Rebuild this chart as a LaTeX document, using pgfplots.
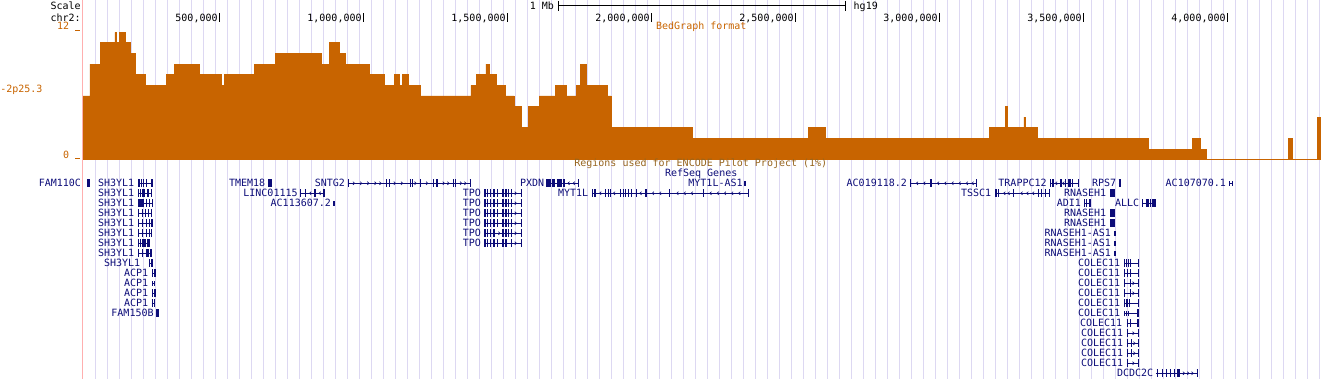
\documentclass[border=0pt]{standalone}
\usepackage{pgfplots}
\pgfplotsset{compat=1.18}
\usepackage{fontspec}
\setmainfont{DejaVu Sans Mono}
\definecolor{ucsco}{RGB}{200,100,0}
\definecolor{navyc}{RGB}{12,12,120}
\definecolor{brownc}{RGB}{150,100,30}
\definecolor{gridc}{RGB}{221,216,242}
\definecolor{pinkc}{RGB}{255,175,175}
\pgfdeclareplotmark{rarr}{\pgfpathmoveto{\pgfpoint{-1.2pt}{1.6pt}}\pgfpathlineto{\pgfpoint{0.6pt}{0pt}}\pgfpathlineto{\pgfpoint{-1.2pt}{-1.6pt}}\pgfusepathqstroke}
\pgfdeclareplotmark{larr}{\pgfpathmoveto{\pgfpoint{1.2pt}{1.6pt}}\pgfpathlineto{\pgfpoint{-0.6pt}{0pt}}\pgfpathlineto{\pgfpoint{1.2pt}{-1.6pt}}\pgfusepathqstroke}
\pgfplotsset{
  base/.style={scale only axis, width=1238pt, height=379pt, at={(83pt,0pt)}, anchor=south west},
  pxaxis/.style={base, xmin=83, xmax=1321, ymin=-379, ymax=0},
  kbaxis/.style={base, xmin=26.7, xmax=4325.3},
  gl/.style={color=navyc, line width=1pt},
  ex/.style={color=navyc, line width=8pt},
  exs/.style={color=navyc, line width=5pt},
  chev/.style={color=navyc, only marks, line width=0.6pt, mark=#1},
}
\tikzset{lab/.style={font=\fontsize{10pt}{12pt}\selectfont, inner sep=0pt, outer sep=0pt}}
\begin{document}
\begin{tikzpicture}
\path[use as bounding box] (0,0) rectangle (1321pt,379pt);
% ---------- guide lines ----------
\begin{axis}[pxaxis, axis line style={draw=none}, xtick={95.5,107.5,...,1319.5}, ytick=\empty,
  xticklabels=\empty, major tick length=0pt, grid=major, major grid style={gridc, line width=1pt}, clip=false]
\addplot[draw=none] coordinates {(100,-100)};
\draw[pinkc, line width=1pt] (axis cs:82.5,0) -- (axis cs:82.5,-379);
\end{axis}
% ---------- bedGraph ----------
\begin{axis}[kbaxis, ymin=-20.65, ymax=15.04, hide axis]
\addplot[const plot, fill=ucsco, draw=ucsco, line width=0.8pt] coordinates {
(26.7,0)(26.7,6)(51.0,9)(85.8,11)(137.8,12)(143.7,11)(152.8,12)(175.0,11)(192.4,10)(207.3,8)
(244.4,7)(314.9,8)(343.7,9)(430.6,8)(508.3,7)(516.3,8)(621.5,9)(694.4,10)(855.6,9)(880.9,11)
(916.7,10)(938.9,9)(1020.8,8)(1072.9,7)(1107.6,8)(1123.9,7)(1135.4,8)(1157.6,7)(1196.9,6)
(1373.9,7)(1393.7,8)(1426.0,9)(1437.5,8)(1463.2,7)(1494.4,6)(1523.3,5)(1547.6,3)(1571.9,5)
(1611.1,6)(1665.6,7)(1706.3,6)(1739.6,7)(1754.9,9)(1773.3,7)(1848.6,6)(1860.1,3)(2142.4,2)
(2545.1,3)(2605.5,2)(3173.6,3)(3228.1,5)(3237.5,3)(3294.0,4)(3297.6,3)(3341.7,2)(3727.1,1)
(3877.5,2)(3907.6,1)(3928.5,0)(4211.8,2)(4224.6,0)(4312.4,4)(4325.3,4)(4325.3,0)} \closedcycle;
\end{axis}
% ---------- RefSeq genes (x in kb, y = row) ----------
\begin{axis}[kbaxis, ymin=-18.33, ymax=19.57, y dir=reverse, hide axis, clip=false, unbounded coords=jump]
% row 0
\addplot[gl] coordinates {(41.7,0)(51,0)(nan,nan)(218.7,0)(270.8,0)(nan,nan)(670.1,0)(681.9,0)(nan,nan)(947.9,0)(1372.9,0)(nan,nan)(1634.4,0)(1750,0)(nan,nan)(2321.8,0)(2328.8,0)(nan,nan)(2898.2,0)(3131.9,0)(nan,nan)(3384.4,0)(3485.1,0)(nan,nan)(3622.9,0)(3629.9,0)(nan,nan)(4005.9,0)(4020.8,0)};
\addplot[ex] coordinates {(41.7,0)(51,0)(nan,nan)(218.7,0)(223,0)(nan,nan)(227,0)(232,0)(nan,nan)(234,0)(238,0)(nan,nan)(245,0)(249,0)(nan,nan)(262,0)(266,0)(nan,nan)(267.5,0)(270.8,0)(nan,nan)(670.1,0)(681.9,0)(nan,nan)(947.9,0)(951.5,0)(nan,nan)(1078.8,0)(1082.5,0)(nan,nan)(1089,0)(1092.7,0)(nan,nan)(1162,0)(1165.5,0)(nan,nan)(1168,0)(1171.5,0)(nan,nan)(1198,0)(1201.5,0)(nan,nan)(1242,0)(1245.5,0)(nan,nan)(1252,0)(1259.4,0)(nan,nan)(1311.5,0)(1315,0)(nan,nan)(1318.5,0)(1322,0)(nan,nan)(1369.5,0)(1372.9,0)(nan,nan)(1634.4,0)(1651.8,0)(nan,nan)(1655.3,0)(1665.7,0)(nan,nan)(1671.5,0)(1688.9,0)(nan,nan)(1692.4,0)(1700.3,0)(nan,nan)(1746.5,0)(1750,0)(nan,nan)(2898.2,0)(2901.7,0)(nan,nan)(2967.5,0)(2973.3,0)(nan,nan)(3128.4,0)(3131.9,0)(nan,nan)(3384.4,0)(3387.9,0)(nan,nan)(3391.8,0)(3397.7,0)(nan,nan)(3418.5,0)(3424.4,0)(nan,nan)(3435.8,0)(3441.4,0)(nan,nan)(3447.2,0)(3458.7,0)(nan,nan)(3462,0)(3465.5,0)(nan,nan)(3481.6,0)(3485.1,0)(nan,nan)(3622.9,0)(3629.9,0)};
\addplot[exs] coordinates {(2321.3,0)(2324.3,0)(nan,nan)(2326.3,0)(2329.3,0)(nan,nan)(4005.9,0)(4009.4,0)(nan,nan)(4017.3,0)(4020.8,0)};
\addplot[chev=rarr] coordinates {(968,0)(993,0)(1018,0)(1043,0)(1060,0)(1110,0)(1135,0)(1182,0)(1222,0)(1280,0)(1296,0)(1340,0)(1355,0)};
\addplot[chev=larr] coordinates {(1712,0)(1730,0)(2922,0)(2947,0)(2995,0)(3020,0)(3045,0)(3070,0)(3095,0)(3115,0)(3405,0)(3430,0)};
% row 1
\addplot[gl] coordinates {(218.7,1)(265.3,1)(nan,nan)(780.2,1)(867,1)(nan,nan)(1420.1,1)(1550,1)(nan,nan)(1795.1,1)(2340.3,1)(nan,nan)(3193.4,1)(3384.4,1)(nan,nan)(3592.7,1)(3610.1,1)};
\addplot[ex] coordinates {(218.7,1)(222.2,1)(nan,nan)(225,1)(229,1)(nan,nan)(231,1)(242,1)(nan,nan)(250,1)(256,1)(nan,nan)(261.8,1)(265.3,1)(nan,nan)(780.2,1)(783.7,1)(nan,nan)(796,1)(799.5,1)(nan,nan)(830.5,1)(834,1)(nan,nan)(861.2,1)(867,1)(nan,nan)(1420.1,1)(1425,1)(nan,nan)(1428.5,1)(1434,1)(nan,nan)(1439.9,1)(1443.4,1)(nan,nan)(1451.4,1)(1457.3,1)(nan,nan)(1465.3,1)(1468.8,1)(nan,nan)(1482.6,1)(1487.6,1)(nan,nan)(1492,1)(1497.9,1)(nan,nan)(1501.4,1)(1506.9,1)(nan,nan)(1512.8,1)(1516.3,1)(nan,nan)(1546.5,1)(1550,1)(nan,nan)(1795.1,1)(1798.6,1)(nan,nan)(1801,1)(1804.5,1)(nan,nan)(1806,1)(1809.5,1)(nan,nan)(1840.3,1)(1843.8,1)(nan,nan)(1848,1)(1851.5,1)(nan,nan)(1856,1)(1859.5,1)(nan,nan)(1891.3,1)(1894.8,1)(nan,nan)(1900,1)(1903.5,1)(nan,nan)(1909,1)(1912.5,1)(nan,nan)(1918,1)(1923,1)(nan,nan)(1928.5,1)(1932,1)(nan,nan)(1947.5,1)(1951,1)(nan,nan)(1978,1)(1986,1)(nan,nan)(2061,1)(2064.5,1)(nan,nan)(2179,1)(2182.5,1)(nan,nan)(2336.8,1)(2340.3,1)(nan,nan)(3193.4,1)(3201.4,1)(nan,nan)(3204,1)(3207.5,1)(nan,nan)(3255.5,1)(3259,1)(nan,nan)(3342,1)(3345.5,1)(nan,nan)(3353.5,1)(3357,1)(nan,nan)(3365.5,1)(3369,1)(nan,nan)(3380.9,1)(3384.4,1)(nan,nan)(3592.7,1)(3610.1,1)};
\addplot[chev=larr] coordinates {(815,1)(848,1)(1822,1)(1870,1)(1962,1)(2005,1)(2030,1)(2090,1)(2115,1)(2140,1)(2205,1)(2230,1)(2255,1)(2280,1)(2305,1)(3225,1)(3240,1)(3285,1)(3305,1)(3325,1)};
\addplot[chev=rarr] coordinates {(1530,1)};
% row 2
\addplot[gl] coordinates {(218.7,2)(270.8,2)(nan,nan)(1420.1,2)(1550,2)(nan,nan)(3503.5,2)(3526.8,2)(nan,nan)(3704.8,2)(3752.4,2)};
\addplot[ex] coordinates {(218.7,2)(223,2)(nan,nan)(226,2)(231,2)(nan,nan)(233,2)(237,2)(nan,nan)(244,2)(248,2)(nan,nan)(256,2)(260,2)(nan,nan)(267.3,2)(270.8,2)(nan,nan)(1420.1,2)(1425,2)(nan,nan)(1428.5,2)(1434,2)(nan,nan)(1439.9,2)(1443.4,2)(nan,nan)(1451.4,2)(1457.3,2)(nan,nan)(1465.3,2)(1468.8,2)(nan,nan)(1482.6,2)(1487.6,2)(nan,nan)(1492,2)(1497.9,2)(nan,nan)(1501.4,2)(1506.9,2)(nan,nan)(1512.8,2)(1516.3,2)(nan,nan)(1546.5,2)(1550,2)(nan,nan)(3503.5,2)(3507,2)(nan,nan)(3508.5,2)(3512,2)(nan,nan)(3519,2)(3522.5,2)(nan,nan)(3523.3,2)(3526.8,2)(nan,nan)(3704.8,2)(3708.3,2)(nan,nan)(3716,2)(3728,2)(nan,nan)(3732,2)(3735.5,2)(nan,nan)(3738,2)(3752.4,2)};
\addplot[exs] coordinates {(895.8,2)(902.8,2)};
% rows 3-4
\addplot[gl] coordinates {(218.7,3)(265.3,3)(nan,nan)(1420.1,3)(1550,3)(nan,nan)(218.7,4)(270.8,4)(nan,nan)(1420.1,4)(1550,4)};
\addplot[ex] coordinates {(218.7,3)(222.2,3)(nan,nan)(230,3)(234,3)(nan,nan)(241,3)(245,3)(nan,nan)(252,3)(256,3)(nan,nan)(261.8,3)(265.3,3)(nan,nan)(1420.1,3)(1425,3)(nan,nan)(1428.5,3)(1434,3)(nan,nan)(1439.9,3)(1443.4,3)(nan,nan)(1451.4,3)(1457.3,3)(nan,nan)(1465.3,3)(1468.8,3)(nan,nan)(1482.6,3)(1487.6,3)(nan,nan)(1492,3)(1497.9,3)(nan,nan)(1501.4,3)(1506.9,3)(nan,nan)(1512.8,3)(1516.3,3)(nan,nan)(1546.5,3)(1550,3)(nan,nan)(3592.7,3)(3610.1,3)(nan,nan)(218.7,4)(222.2,4)(nan,nan)(232,4)(236,4)(nan,nan)(244,4)(248,4)(nan,nan)(256,4)(261,4)(nan,nan)(264,4)(270.8,4)(nan,nan)(1420.1,4)(1425,4)(nan,nan)(1428.5,4)(1434,4)(nan,nan)(1439.9,4)(1443.4,4)(nan,nan)(1451.4,4)(1457.3,4)(nan,nan)(1465.3,4)(1468.8,4)(nan,nan)(1482.6,4)(1487.6,4)(nan,nan)(1492,4)(1497.9,4)(nan,nan)(1501.4,4)(1506.9,4)(nan,nan)(1512.8,4)(1516.3,4)(nan,nan)(1546.5,4)(1550,4)(nan,nan)(3592.7,4)(3610.1,4)};
% rows 5-7
\addplot[gl] coordinates {(218.7,5)(268,5)(nan,nan)(1420.1,5)(1550,5)(nan,nan)(218.7,6)(260,6)(nan,nan)(1420.1,6)(1550,6)(nan,nan)(218.7,7)(265.3,7)};
\addplot[ex] coordinates {(218.7,5)(222.2,5)(nan,nan)(232,5)(236,5)(nan,nan)(244,5)(248,5)(nan,nan)(256,5)(260,5)(nan,nan)(264.5,5)(268,5)(nan,nan)(1420.1,5)(1425,5)(nan,nan)(1428.5,5)(1434,5)(nan,nan)(1439.9,5)(1443.4,5)(nan,nan)(1451.4,5)(1457.3,5)(nan,nan)(1482.6,5)(1487.6,5)(nan,nan)(1492,5)(1497.9,5)(nan,nan)(1501.4,5)(1506.9,5)(nan,nan)(1512.8,5)(1516.3,5)(nan,nan)(1546.5,5)(1550,5)(nan,nan)(218.7,6)(222.2,6)(nan,nan)(225,6)(228.5,6)(nan,nan)(231,6)(246,6)(nan,nan)(250,6)(258,6)(nan,nan)(1420.1,6)(1425,6)(nan,nan)(1428.5,6)(1434,6)(nan,nan)(1439.9,6)(1443.4,6)(nan,nan)(1451.4,6)(1457.3,6)(nan,nan)(1465.3,6)(1468.8,6)(nan,nan)(1482.6,6)(1487.6,6)(nan,nan)(1492,6)(1497.9,6)(nan,nan)(1512.8,6)(1516.3,6)(nan,nan)(1546.5,6)(1550,6)(nan,nan)(218.7,7)(222.2,7)(nan,nan)(232,7)(236,7)(nan,nan)(244,7)(256,7)(nan,nan)(258,7)(265.3,7)};
\addplot[exs] coordinates {(3607.6,5)(3613.5,5)(nan,nan)(3607.6,6)(3613.5,6)(nan,nan)(3607.6,7)(3613.5,7)};
\addplot[chev=rarr] coordinates {(1530,2)(1530,3)(1530,4)(1473,5)(1530,5)(1530,6)};
% rows 8-13 (left)
\addplot[gl] coordinates {(257,8)(270.8,8)(nan,nan)(266.3,9)(280.2,9)(nan,nan)(267.4,10)(277.8,10)(nan,nan)(267.4,11)(281.2,11)(nan,nan)(265.3,12)(278,12)};
\addplot[ex] coordinates {(257,8)(260.5,8)(nan,nan)(263,8)(266.5,8)(nan,nan)(267.3,8)(270.8,8)(nan,nan)(266.3,9)(269.8,9)(nan,nan)(272,9)(279.5,9)(nan,nan)(267.4,11)(270.9,11)(nan,nan)(274,11)(279.5,11)(nan,nan)(265.3,12)(268.8,12)(nan,nan)(274.5,12)(278,12)(nan,nan)(280.2,13)(290.6,13)};
\addplot[exs] coordinates {(267.4,10)(270.9,10)(nan,nan)(274.3,10)(277.8,10)};
% COLEC11 rows 8-18
\addplot[gl] coordinates {(3642.4,8)(3693.4,8)(nan,nan)(3642.4,9)(3693.4,9)(nan,nan)(3642.4,10)(3693.4,10)(nan,nan)(3642.4,11)(3693.4,11)(nan,nan)(3642.4,12)(3693.4,12)(nan,nan)(3642.4,13)(3693.4,13)(nan,nan)(3650.7,14)(3693.4,14)(nan,nan)(3650.7,15)(3693.4,15)(nan,nan)(3650.7,16)(3693.4,16)(nan,nan)(3650.7,17)(3693.4,17)(nan,nan)(3650.7,18)(3693.4,18)};
\addplot[ex] coordinates {(3642.4,8)(3645.9,8)(nan,nan)(3648.5,8)(3652,8)(nan,nan)(3654.5,8)(3658,8)(nan,nan)(3661,8)(3664.5,8)(nan,nan)(3689.9,8)(3693.4,8)(nan,nan)(3642.4,9)(3645.9,9)(nan,nan)(3650,9)(3653.5,9)(nan,nan)(3661,9)(3664.5,9)(nan,nan)(3689.9,9)(3693.4,9)(nan,nan)(3642.4,10)(3645.9,10)(nan,nan)(3661,10)(3664.5,10)(nan,nan)(3689.9,10)(3693.4,10)(nan,nan)(3642.4,11)(3645.9,11)(nan,nan)(3661,11)(3664.5,11)(nan,nan)(3689.9,11)(3693.4,11)(nan,nan)(3642.4,12)(3645.9,12)(nan,nan)(3646.5,12)(3650,12)(nan,nan)(3652,12)(3655.5,12)(nan,nan)(3659,12)(3662.5,12)(nan,nan)(3689.9,12)(3693.4,12)(nan,nan)(3688,13)(3693.4,13)(nan,nan)(3650.7,14)(3654.2,14)(nan,nan)(3661,14)(3664.5,14)(nan,nan)(3688,14)(3693.4,14)(nan,nan)(3650.7,15)(3654.2,15)(nan,nan)(3689.9,15)(3693.4,15)(nan,nan)(3650.7,16)(3654.2,16)(nan,nan)(3667,16)(3670.5,16)(nan,nan)(3689.9,16)(3693.4,16)(nan,nan)(3650.7,17)(3654.2,17)(nan,nan)(3667,17)(3670.5,17)(nan,nan)(3689.9,17)(3693.4,17)(nan,nan)(3650.7,18)(3654.2,18)(nan,nan)(3689.9,18)(3693.4,18)};
\addplot[exs] coordinates {(3642.4,13)(3645.9,13)(nan,nan)(3649,13)(3652.5,13)(nan,nan)(3656,13)(3659.5,13)};
\addplot[chev=rarr] coordinates {(3675,10)(3675,11)(3675,15)(3678,16)(3678,17)(3675,18)};
% row 19 DCDC2C
\addplot[gl] coordinates {(3752.4,19)(3897.1,19)};
\addplot[ex] coordinates {(3754.6,19)(3760.2,19)(nan,nan)(3771.9,19)(3775.4,19)(nan,nan)(3786.8,19)(3791.4,19)(nan,nan)(3800.3,19)(3803.8,19)(nan,nan)(3814.2,19)(3818.8,19)(nan,nan)(3827,19)(3835,19)(nan,nan)(3893.6,19)(3897.1,19)};
\addplot[chev=rarr] coordinates {(3850,19)(3865,19)(3880,19)};
\end{axis}
% ---------- texts (pixel coordinates) ----------
\begin{axis}[pxaxis, hide axis, clip=false]
\addplot[draw=none] coordinates {(100,-100)};
\node[lab, anchor=base east] at (axis cs:80.7,-10) {Scale};
\node[lab, anchor=base east] at (axis cs:80.7,-21.3) {chr2:};
\node[lab, anchor=base east, text=ucsco] at (axis cs:69.2,-30) {12};
\node[lab, anchor=base east, text=ucsco] at (axis cs:69.2,-158.3) {0};
\node[lab, anchor=base west, text=ucsco] at (axis cs:0.3,-92.7) {-2p25.3};
\draw[ucsco, line width=1pt] (axis cs:75,-30.5) -- (axis cs:80,-30.5);
\draw[ucsco, line width=1pt] (axis cs:75,-158.8) -- (axis cs:80,-158.8);
% coordinate ticks
\node[lab, anchor=base east] at (axis cs:217.6,-21.3) {500,000};
\node[lab, anchor=base east] at (axis cs:361.6,-21.3) {1,000,000};
\node[lab, anchor=base east] at (axis cs:505.6,-21.3) {1,500,000};
\node[lab, anchor=base east] at (axis cs:649.6,-21.3) {2,000,000};
\node[lab, anchor=base east] at (axis cs:793.6,-21.3) {2,500,000};
\node[lab, anchor=base east] at (axis cs:937.6,-21.3) {3,000,000};
\node[lab, anchor=base east] at (axis cs:1081.6,-21.3) {3,500,000};
\node[lab, anchor=base east] at (axis cs:1225.6,-21.3) {4,000,000};
\draw[black, line width=1pt] (axis cs:219.3,-13.3) -- (axis cs:219.3,-22);
\draw[black, line width=1pt] (axis cs:363.3,-13.3) -- (axis cs:363.3,-22);
\draw[black, line width=1pt] (axis cs:507.3,-13.3) -- (axis cs:507.3,-22);
\draw[black, line width=1pt] (axis cs:651.3,-13.3) -- (axis cs:651.3,-22);
\draw[black, line width=1pt] (axis cs:795.3,-13.3) -- (axis cs:795.3,-22);
\draw[black, line width=1pt] (axis cs:939.3,-13.3) -- (axis cs:939.3,-22);
\draw[black, line width=1pt] (axis cs:1083.3,-13.3) -- (axis cs:1083.3,-22);
\draw[black, line width=1pt] (axis cs:1227.3,-13.3) -- (axis cs:1227.3,-22);
% scale bar
\node[lab, anchor=base east] at (axis cs:554,-9.3) {1 Mb};
\draw[black, line width=1pt] (axis cs:558.3,-6) -- (axis cs:845,-6);
\draw[black, line width=1pt] (axis cs:558.3,-1) -- (axis cs:558.3,-11);
\draw[black, line width=1pt] (axis cs:845,-1) -- (axis cs:845,-11);
\node[lab, anchor=base west] at (axis cs:853.7,-9.3) {hg19};
\node[lab, anchor=base, text=ucsco] at (axis cs:701.3,-29.3) {BedGraph format};
\node[lab, anchor=base, text=brownc] at (axis cs:700.8,-166.3) {Regions used for ENCODE Pilot Project (1\%)};
\node[lab, anchor=base, text=navyc] at (axis cs:701.2,-176.3) {RefSeq Genes};
% gene labels
\begin{scope}[every node/.style={lab, anchor=base east, text=navyc}]
\node at (axis cs:80.9,-186.8) {FAM110C};
\node at (axis cs:134.2,-186.8) {SH3YL1};
\node at (axis cs:265.2,-186.8) {TMEM18};
\node at (axis cs:344.9,-186.8) {SNTG2};
\node at (axis cs:544.2,-186.8) {PXDN};
\node at (axis cs:742.6,-186.8) {MYT1L-AS1};
\node at (axis cs:906.9,-186.8) {AC019118.2};
\node at (axis cs:1046.6,-186.8) {TRAPPC12};
\node at (axis cs:1116.2,-186.8) {RPS7};
\node at (axis cs:1225.9,-186.8) {AC107070.1};
\node at (axis cs:134.2,-196.8) {SH3YL1};
\node at (axis cs:297.6,-196.8) {LINC01115};
\node at (axis cs:480.9,-196.8) {TPO};
\node at (axis cs:588.2,-196.8) {MYT1L};
\node at (axis cs:991.2,-196.8) {TSSC1};
\node at (axis cs:1106.2,-196.8) {RNASEH1};
\node at (axis cs:134.2,-206.8) {SH3YL1};
\node at (axis cs:330.9,-206.8) {AC113607.2};
\node at (axis cs:480.9,-206.8) {TPO};
\node at (axis cs:1080.9,-206.8) {ADI1};
\node at (axis cs:1139.2,-206.8) {ALLC};
\node at (axis cs:134.2,-216.8) {SH3YL1};
\node at (axis cs:480.9,-216.8) {TPO};
\node at (axis cs:1106.2,-216.8) {RNASEH1};
\node at (axis cs:134.2,-226.8) {SH3YL1};
\node at (axis cs:480.9,-226.8) {TPO};
\node at (axis cs:1106.2,-226.8) {RNASEH1};
\node at (axis cs:134.2,-236.8) {SH3YL1};
\node at (axis cs:480.9,-236.8) {TPO};
\node at (axis cs:1110.9,-236.8) {RNASEH1-AS1};
\node at (axis cs:134.2,-246.8) {SH3YL1};
\node at (axis cs:480.9,-246.8) {TPO};
\node at (axis cs:1110.9,-246.8) {RNASEH1-AS1};
\node at (axis cs:134.2,-256.8) {SH3YL1};
\node at (axis cs:1110.9,-256.8) {RNASEH1-AS1};
\node at (axis cs:140.2,-266.8) {SH3YL1};
\node at (axis cs:1120.2,-266.8) {COLEC11};
\node at (axis cs:148.2,-276.8) {ACP1};
\node at (axis cs:1120.2,-276.8) {COLEC11};
\node at (axis cs:148.2,-286.8) {ACP1};
\node at (axis cs:1120.2,-286.8) {COLEC11};
\node at (axis cs:148.2,-296.8) {ACP1};
\node at (axis cs:1120.2,-296.8) {COLEC11};
\node at (axis cs:148.2,-306.8) {ACP1};
\node at (axis cs:1120.2,-306.8) {COLEC11};
\node at (axis cs:153.6,-316.8) {FAM150B};
\node at (axis cs:1120.2,-316.8) {COLEC11};
\node at (axis cs:1122.2,-326.8) {COLEC11};
\node at (axis cs:1123.2,-336.8) {COLEC11};
\node at (axis cs:1123.2,-346.8) {COLEC11};
\node at (axis cs:1123.2,-356.8) {COLEC11};
\node at (axis cs:1123.2,-366.8) {COLEC11};
\node at (axis cs:1153.2,-376.8) {DCDC2C};
\end{scope}
\end{axis}
\end{tikzpicture}
\end{document}
